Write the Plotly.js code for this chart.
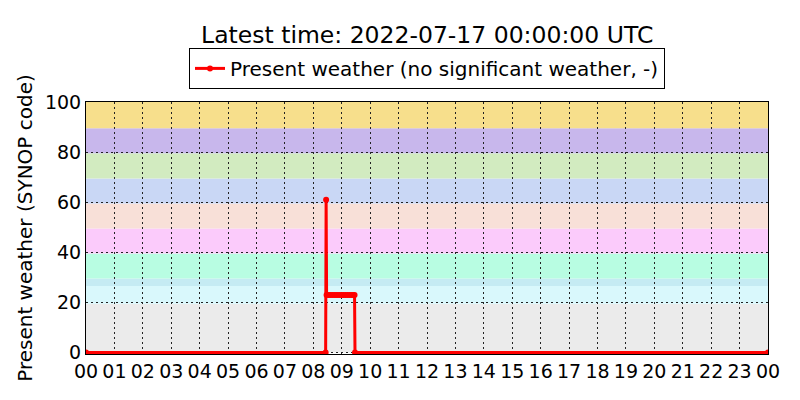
<!DOCTYPE html>
<html>
<head>
<meta charset="utf-8">
<script src="https://cdn.plot.ly/plotly-3.0.1.min.js"></script>
<style>
  body { margin: 0; background: #fff; }
  #myDiv { width: 800px; height: 400px; }
</style>
</head>
<body>
<div id="myDiv"></div>
<script>
// present weather readings (SYNOP code)
let times = [
  '2022-07-16 00:00', '2022-07-16 08:26', '2022-07-16 08:27',
  '2022-07-16 08:28', '2022-07-16 08:32', '2022-07-16 08:36', '2022-07-16 08:40',
  '2022-07-16 08:44', '2022-07-16 08:48', '2022-07-16 08:52', '2022-07-16 08:56',
  '2022-07-16 09:00', '2022-07-16 09:04', '2022-07-16 09:08', '2022-07-16 09:12',
  '2022-07-16 09:16', '2022-07-16 09:20', '2022-07-16 09:24', '2022-07-16 09:27',
  '2022-07-16 09:28', '2022-07-17 00:00'
];
let codes = [
  0, 0, 61,
  23, 23, 23, 23,
  23, 23, 23, 23,
  23, 23, 23, 23,
  23, 23, 23, 23,
  0, 0
];

// SYNOP code groups shaded behind the plot
let bandLow  = [0, 19.5, 26.5, 29.5, 39.5, 49.5, 59.5, 69.5, 79.5, 89.5];
let bandHigh = [19.5, 26.5, 29.5, 39.5, 49.5, 59.5, 69.5, 79.5, 89.5, 100];
let bandColors = ['#ebebeb', '#d9f8fc', '#c5ebf3', '#b8fde2', '#fbcbfb',
                  '#f8e0d8', '#c9d7f5', '#d2ebc0', '#c8b7ec', '#f7df8c'];

function plotWeather() {
  let shapes = [];
  for (let i = 0; i < bandLow.length; i++) {
    shapes.push({
      type: 'rect', xref: 'paper', yref: 'y',
      x0: 0, x1: 1, y0: bandLow[i], y1: bandHigh[i],
      fillcolor: bandColors[i], line: { width: 0 }, layer: 'below'
    });
  }

  var trace1 = {
    x: times,
    y: codes,
    mode: 'lines+markers',
    name: 'Present weather (no significant weather, -)',
    type: 'scatter',
    cliponaxis: true,
    line: { color: 'red', width: 3 },
    marker: { color: 'red', size: 6 }
  };

  var tickFont = { family: 'DejaVu Sans', size: 19, color: 'black' };
  var labelFont = { family: 'DejaVu Sans', size: 20, color: 'black' };

  var layout = {
    width: 800,
    height: 400,
    margin: { l: 86, r: 32, t: 102, b: 46 },
    paper_bgcolor: 'white',
    plot_bgcolor: 'white',
    font: tickFont,
    showlegend: true,
    title: {
      text: 'Latest time: 2022-07-17 00:00:00 UTC',
      font: { family: 'DejaVu Sans', size: 23.5, color: 'black' },
      x: 0.534, xanchor: 'center',
      y: 0.912, yanchor: 'middle', yref: 'container'
    },
    legend: {
      x: 0.5, xanchor: 'center',
      y: 1.052, yanchor: 'bottom',
      bordercolor: 'black', borderwidth: 1,
      bgcolor: 'white',
      font: labelFont
    },
    shapes: shapes,
    xaxis: {
      type: 'date',
      range: ['2022-07-16 00:00', '2022-07-17 00:00'],
      tick0: '2022-07-16 00:00',
      dtick: 3600000,
      tickformat: '%H',
      showgrid: true,
      gridcolor: '#222',
      griddash: '1.5px,3.5px',
      gridwidth: 1,
      zeroline: false,
      showline: true,
      mirror: true,
      linecolor: 'black',
      linewidth: 1,
      ticks: '',
      tickfont: tickFont
    },
    yaxis: {
      range: [-0.6, 100],
      tick0: 0,
      dtick: 20,
      showgrid: true,
      gridcolor: '#222',
      griddash: '1.5px,3.5px',
      gridwidth: 1,
      zeroline: false,
      showline: true,
      mirror: true,
      linecolor: 'black',
      linewidth: 1,
      ticks: '',
      tickfont: tickFont,
      title: { text: 'Present weather (SYNOP code)', font: labelFont, standoff: 6 }
    }
  };

  Plotly.newPlot('myDiv', [trace1], layout, { staticPlot: true });
}

plotWeather();
</script>
</body>
</html>
